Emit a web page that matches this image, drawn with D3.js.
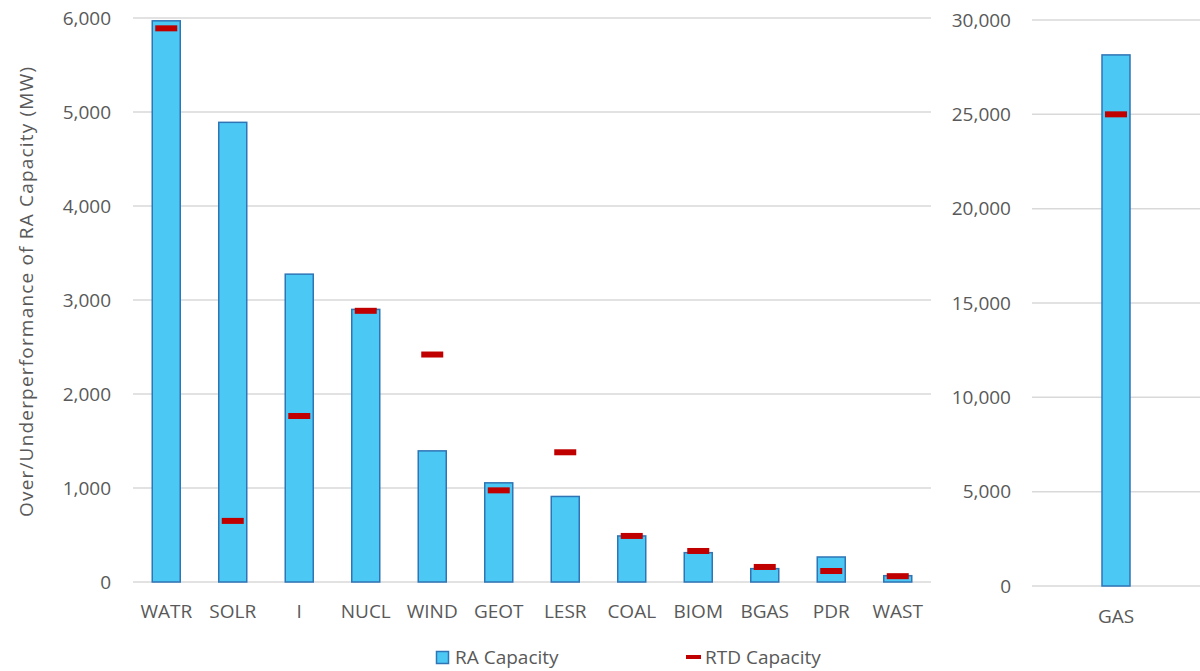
<!DOCTYPE html>
<html>
<head>
<meta charset="utf-8">
<script src="https://cdn.jsdelivr.net/npm/d3@7"></script>
<style>
  html, body { margin: 0; padding: 0; background: #fff; }
  svg { display: block; font-family: "Open Sans", "Liberation Sans", sans-serif; }
</style>
</head>
<body>
<svg id="chart" width="1200" height="671"></svg>
<script>
// Resource types on the primary (left) axis
const categories = ["WATR", "SOLR", "I", "NUCL", "WIND", "GEOT", "LESR", "COAL", "BIOM", "BGAS", "PDR", "WAST"];
const raCapacity  = [5970, 4890, 3275, 2900, 1395, 1055, 910, 490, 312, 142, 266, 67];
const rtdCapacity = [5890,  650, 1766, 2885, 2420,  975, 1380, 490, 330, 160, 117, 62];

// Gas shown separately on its own (right) axis
const gasCategories = ["GAS"];
const gasRA  = [28150];
const gasRTD = [25000];

const leftTicks  = [0, 1000, 2000, 3000, 4000, 5000, 6000];
const rightTicks = [0, 5000, 10000, 15000, 20000, 25000, 30000];

const yTitle = "Over/Underperformance of RA Capacity (MW)";
const legendLabels = ["RA Capacity", "RTD Capacity"];

const svg = d3.select("#chart");
const fmt = d3.format(",");
const textColor = "#595959";
const gridColor = "#D9D9D9";
const barFill = "#4CC8F4";
const barStroke = "#2E75B6";
const dashColor = "#C00000";
const barW = 28, dashW = 22, dashH = 6;
const fontSize = 19;

// ---- Left panel ----
const xL = d3.scaleBand().domain(categories).range([133, 931]);
const yL = d3.scaleLinear().domain([0, 6000]).range([582, 18]);

const gL = svg.append("g");
gL.append("g").selectAll("line").data(leftTicks).join("line")
  .attr("x1", 133).attr("x2", 931)
  .attr("y1", d => yL(d)).attr("y2", d => yL(d))
  .attr("stroke", gridColor).attr("stroke-width", 1.5);

gL.append("g").selectAll("text").data(leftTicks).join("text")
  .attr("x", 111).attr("y", d => yL(d)).attr("dy", "0.35em")
  .attr("text-anchor", "end").attr("font-size", fontSize).attr("fill", textColor)
  .text(d => fmt(d));

const leftData = categories.map((c, i) => ({ c, ra: raCapacity[i], rtd: rtdCapacity[i] }));
gL.append("g").selectAll("rect").data(leftData).join("rect")
  .attr("x", d => xL(d.c) + xL.bandwidth() / 2 - barW / 2)
  .attr("width", barW)
  .attr("y", d => yL(d.ra))
  .attr("height", d => yL(0) - yL(d.ra))
  .attr("fill", barFill).attr("stroke", barStroke).attr("stroke-width", 1.5);

gL.append("g").selectAll("rect").data(leftData).join("rect")
  .attr("x", d => xL(d.c) + xL.bandwidth() / 2 - dashW / 2)
  .attr("width", dashW)
  .attr("y", d => yL(d.rtd) - dashH / 2)
  .attr("height", dashH)
  .attr("fill", dashColor);

gL.append("g").selectAll("text").data(categories).join("text")
  .attr("x", d => xL(d) + xL.bandwidth() / 2).attr("y", 618)
  .attr("text-anchor", "middle").attr("font-size", fontSize).attr("fill", textColor)
  .text(d => d);

// ---- Right panel (GAS) ----
const xR = d3.scaleBand().domain(gasCategories).range([1032, 1200]);
const yR = d3.scaleLinear().domain([0, 30000]).range([586, 20]);

const gR = svg.append("g");
gR.append("g").selectAll("line").data(rightTicks).join("line")
  .attr("x1", 1032).attr("x2", 1200)
  .attr("y1", d => yR(d)).attr("y2", d => yR(d))
  .attr("stroke", gridColor).attr("stroke-width", 1.5);

gR.append("g").selectAll("text").data(rightTicks).join("text")
  .attr("x", 1011).attr("y", d => yR(d)).attr("dy", "0.35em")
  .attr("text-anchor", "end").attr("font-size", fontSize).attr("fill", textColor)
  .text(d => fmt(d));

const gasData = gasCategories.map((c, i) => ({ c, ra: gasRA[i], rtd: gasRTD[i] }));
gR.append("g").selectAll("rect").data(gasData).join("rect")
  .attr("x", d => xR(d.c) + xR.bandwidth() / 2 - barW / 2)
  .attr("width", barW)
  .attr("y", d => yR(d.ra))
  .attr("height", d => yR(0) - yR(d.ra))
  .attr("fill", barFill).attr("stroke", barStroke).attr("stroke-width", 1.5);

gR.append("g").selectAll("rect").data(gasData).join("rect")
  .attr("x", d => xR(d.c) + xR.bandwidth() / 2 - dashW / 2)
  .attr("width", dashW)
  .attr("y", d => yR(d.rtd) - dashH / 2)
  .attr("height", dashH)
  .attr("fill", dashColor);

gR.append("g").selectAll("text").data(gasCategories).join("text")
  .attr("x", d => xR(d) + xR.bandwidth() / 2).attr("y", 623)
  .attr("text-anchor", "middle").attr("font-size", fontSize).attr("fill", textColor)
  .text(d => d);

// ---- Axis title ----
svg.append("text")
  .attr("transform", "translate(33,292) rotate(-90)")
  .attr("text-anchor", "middle").attr("font-size", 19).attr("fill", textColor)
  .attr("textLength", 450).attr("lengthAdjust", "spacing")
  .text(yTitle);

// ---- Legend ----
const lg = svg.append("g");
lg.append("rect").attr("x", 436.5).attr("y", 651.5).attr("width", 12).attr("height", 12)
  .attr("fill", barFill).attr("stroke", barStroke).attr("stroke-width", 1.5);
lg.append("text").attr("x", 455).attr("y", 664)
  .attr("font-size", fontSize).attr("fill", textColor).text(legendLabels[0]);
lg.append("rect").attr("x", 686).attr("y", 655).attr("width", 15).attr("height", 4)
  .attr("fill", dashColor);
lg.append("text").attr("x", 705).attr("y", 664)
  .attr("font-size", fontSize).attr("fill", textColor).text(legendLabels[1]);
</script>
</body>
</html>
